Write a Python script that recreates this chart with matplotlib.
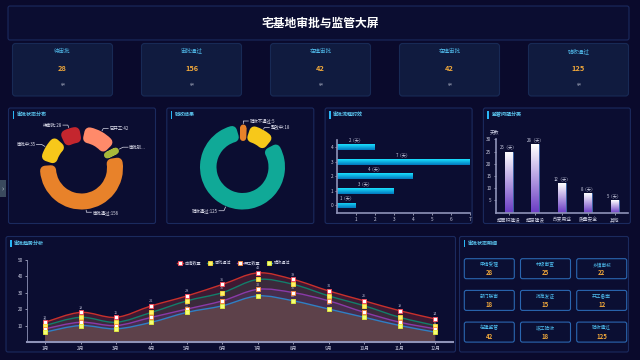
import numpy as np
import matplotlib
matplotlib.use('Agg')
import matplotlib.pyplot as plt
from matplotlib.patches import FancyBboxPatch, Wedge, Rectangle, PathPatch
from matplotlib.path import Path

plt.rcParams['font.family'] = ['Noto Sans CJK SC', 'DejaVu Sans']
plt.rcParams['axes.unicode_minus'] = False

# ---- 数据 ----
kpi_labels = ['待审批', '审批通过', '在建审批', '在建审批', '验收通过']
kpi_values = [28, 156, 42, 42, 125]
kpi_unit = '宗'

status_names = ['已开工', '审批驳回', '审批通过', '审批中', '待审批']
status_values = [42, 10, 156, 35, 28]
status_colors = ['#ff8a6a', '#a8b83a', '#e8822a', '#f7c81a', '#c4262e']
status_text = ['已开工:42', '审批驳...', '审批通过:156', '审批中:35', '待审批:28']

check_names = ['验收不通过', '整改中', '验收通过']
check_values = [5, 18, 125]
check_colors = ['#e8822a', '#f7c81a', '#10a997']

flow_cats = [0, 1, 2, 3, 4]
flow_days = [1, 3, 4, 7, 2]

issue_cats = ['超面积建设', '超层建设', '改变用途', '质量安全', '其他']
issue_days = [25, 28, 12, 8, 5]

months = ['1月', '2月', '3月', '4月', '5月', '6月', '7月', '8月', '9月', '10月', '11月', '12月']
apply_cnt = [12, 18, 15, 22, 28, 35, 42, 38, 31, 25, 19, 14]
approve_cnt = [10, 15, 12, 18, 25, 30, 38, 35, 28, 22, 15, 10]
start_cnt = [8, 12, 10, 15, 20, 25, 32, 30, 25, 18, 12, 8]
accept_cnt = [6, 10, 8, 12, 18, 22, 28, 25, 20, 15, 10, 6]
trend_names = ['申请数量', '审批通过', '开工数量', '验收通过']

detail_labels = ['申请受理', '村级审查', '乡镇审核', '部门联审', '批准发证', '开工备案',
                 '在建监管', '竣工验收', '验收通过']
detail_values = [28, 25, 22, 18, 15, 12, 42, 18, 125]

# ---- 画布 ----
W, H = 640, 360
BG = '#0a0a2c'
PANEL = '#0b0d31'
EDGE = '#1b2a5e'
TITLE_C = '#5cc6f0'
TICK_C = '#c9cbe0'

fig = plt.figure(figsize=(W / 100, H / 100), dpi=100)
fig.patch.set_facecolor(BG)

bg = fig.add_axes([0, 0, 1, 1])
bg.set_xlim(0, W)
bg.set_ylim(H, 0)
bg.axis('off')


def add_ax(x, y, w, h):
    ax = fig.add_axes([x / W, 1 - (y + h) / H, w / W, h / H])
    ax.patch.set_alpha(0)
    return ax


def panel(x, y, w, h, title=None, fc=PANEL, ec=EDGE, r=2):
    bg.add_patch(FancyBboxPatch((x, y), w, h, boxstyle=f'round,pad=0,rounding_size={r}',
                                fc=fc, ec=ec, lw=0.8, zorder=1))
    if title:
        bg.add_patch(Rectangle((x + 4, y + 3), 1.5, 7.5, fc='#29b6f6', ec='none', zorder=2))
        bg.text(x + 8, y + 6.8, title, color=TITLE_C, fontsize=3.6, va='center', ha='left',
                fontweight='bold', zorder=3)


# 标题
panel(8, 6, 621, 34)
bg.text(320, 23, '宅基地审批与监管大屏', color='white', fontsize=8.5, fontweight='bold',
        ha='center', va='center', zorder=3)

# KPI 卡片
for i, (lab, val) in enumerate(zip(kpi_labels, kpi_values)):
    x0 = 12.5 + i * 129
    panel(x0, 43.5, 100, 52.5, fc='#101b3f', ec='#182a55', r=3)
    bg.text(x0 + 50, 51, lab, color='#4fb6e6', fontsize=4, ha='center', va='center', zorder=3)
    bg.text(x0 + 50, 68.5, str(val), color='#f2a93b', fontsize=5.3, fontweight='bold',
            ha='center', va='center', zorder=3)
    bg.text(x0 + 50, 84.5, kpi_unit, color='#8a90a6', fontsize=2.8, ha='center', va='center', zorder=3)

# 中部四个面板
mid_titles = ['审批状态分布', '验收结果', '审批流程时效', '监管问题分类']
for i, t in enumerate(mid_titles):
    panel(8.5 + i * 158.3, 108, 147, 115.5, title=t)

# 底部面板
panel(6, 236.5, 449.5, 115.5, title='审批趋势分析')
panel(459.5, 236.5, 169, 115.5, title='审批状态明细')

# 左侧小标签
bg.add_patch(Rectangle((0, 180), 6, 17, fc='#3a4a5e', ec='none', zorder=2))
bg.text(3, 188.5, '›', color='#c8d0dc', fontsize=5, ha='center', va='center', zorder=3)


# ---- 环形图 ----
def donut(cx, cy, r_out, r_in, values, colors, labels, start, sides, lens):
    R = 70
    ax = add_ax(cx - R, cy - R, 2 * R, 2 * R)
    ax.set_xlim(-R, R)
    ax.set_ylim(-R, R)
    ax.set_aspect('equal')
    ax.axis('off')
    total = float(sum(values))
    a = start
    gap = 3.5
    r_mid = (r_out + r_in) / 2
    for v, c, lab, side, ln in zip(values, colors, labels, sides, lens):
        span = v / total * 360
        a1, a2 = a - span, a
        arc_full = np.radians(span) * r_mid
        drawn = max(arc_full - gap, arc_full * 0.85)
        e = min(5, drawn / 2)
        mid = (a1 + a2) / 2
        half = np.degrees((drawn / 2 - e) / r_mid)
        th1, th2 = mid - max(half, 0.05), mid + max(half, 0.05)
        ax.add_patch(Wedge((0, 0), r_out - e, th1, th2, width=(r_out - r_in) - 2 * e,
                           fc=c, ec=c, lw=2 * e * 0.72, joinstyle='round'))
        m = np.radians(mid)
        p0 = np.array([np.cos(m), np.sin(m)]) * (r_out + 1)
        p1 = np.array([np.cos(m), np.sin(m)]) * (r_out + ln)
        p2 = p1 + np.array([5 * side, 0])
        ax.plot([p0[0], p1[0], p2[0]], [p0[1], p1[1], p2[1]], color='#d8d8e8', lw=0.5,
                clip_on=False)
        ax.text(p2[0] + side * 1.0, p2[1], lab, color='#e0e0ee', fontsize=3.2,
                ha='left' if side > 0 else 'right', va='center')
        a = a1


donut(81.5, 168, 41.5, 25.5, status_values, status_colors, status_text, 89,
      [1, 1, 1, -1, -1], [3.5, 5, 3, 5, 3.5])
donut(242.5, 167, 42.5, 26, check_values, check_colors,
      [f'{n}:{v}' for n, v in zip(check_names, check_values)], 95, [1, 1, -1], [3.5, 2.5, 5])


def style_axis(ax):
    for s in ['top', 'right']:
        ax.spines[s].set_visible(False)
    for s in ['left', 'bottom']:
        ax.spines[s].set_color('#8f93b8')
        ax.spines[s].set_linewidth(1.2)
    ax.tick_params(colors=TICK_C, labelsize=3.4, length=1.5, width=0.5, pad=1.5)


def gradient_fill(ax, bar, c_top, c_bot):
    x0, y0 = bar.get_x(), bar.get_y()
    w, h = bar.get_width(), bar.get_height()
    cmap = matplotlib.colors.LinearSegmentedColormap.from_list('g', [c_bot, c_top])
    grad = np.linspace(0, 1, 64).reshape(-1, 1)
    im = ax.imshow(grad, extent=[x0, x0 + w, y0, y0 + h], origin='lower', aspect='auto',
                   cmap=cmap, zorder=bar.get_zorder() + 0.1)
    im.set_clip_path(bar)


# ---- 横向条形图 ----
ax3 = add_ax(337.3, 140, 132.7, 72.7)
bars = ax3.barh(flow_cats, flow_days, height=0.4, color='#00b4e6', zorder=2)
for b, v in zip(bars, flow_days):
    gradient_fill(ax3, b, '#19e0ff', '#0277bd')
    ax3.text(v / 2, b.get_y() + b.get_height() + 0.12, f'{v}（天）', color=TICK_C,
             fontsize=3.1, ha='center', va='bottom')
ax3.set_xlim(0, 7)
ax3.set_ylim(-0.5, 4.5)
ax3.set_xticks(range(1, 8))
ax3.set_yticks(flow_cats)
style_axis(ax3)

# ---- 竖向条形图 ----
ax4 = add_ax(495.7, 139.3, 132.3, 73.4)
xs = np.arange(len(issue_cats))
bars = ax4.bar(xs, issue_days, width=0.3, color='#8f6ad8', ec='#2e7fb8', lw=0.4, zorder=2)
for b, v in zip(bars, issue_days):
    gradient_fill(ax4, b, '#ffffff', '#6a3cc4')
    ax4.text(b.get_x() + b.get_width() / 2, v + 0.8, f'{v}（天）', color=TICK_C,
             fontsize=3.1, ha='center', va='bottom')
ax4.set_xlim(-0.5, 4.5)
ax4.set_ylim(0, 30)
ax4.set_yticks(range(5, 31, 5))
ax4.set_xticks(xs)
ax4.set_xticklabels(issue_cats)
style_axis(ax4)
ax4.text(-0.55, 32, '天数', color=TICK_C, fontsize=3.4, ha='center', va='bottom')


# ---- 趋势折线图 ----
def smooth_path(x, y, close=False):
    pts = np.column_stack([x, y]).astype(float)
    n = len(pts)
    verts = [pts[0]]
    codes = [Path.MOVETO]
    for i in range(n - 1):
        p0 = pts[i - 1] if i > 0 else pts[i]
        p1, p2 = pts[i], pts[i + 1]
        p3 = pts[i + 2] if i + 2 < n else pts[i + 1]
        verts += [p1 + (p2 - p0) / 6, p2 - (p3 - p1) / 6, p2]
        codes += [Path.CURVE4] * 3
    if close:
        verts += [[x[-1], 0], [x[0], 0], [x[0], 0]]
        codes += [Path.LINETO, Path.LINETO, Path.CLOSEPOLY]
    return Path(verts, codes)


ax5 = add_ax(27.3, 259.7, 425.7, 82.3)
xm = np.arange(len(months))
series = [apply_cnt, approve_cnt, start_cnt, accept_cnt]
line_c = ['#c8302c', '#127e6a', '#8a3aa8', '#2f7fc4']
fill_c = ['#b0343a', '#2a7a62', '#7a3e9a', '#7a5a48']
fill_a = [0.32, 0.18, 0.2, 0.45]
mfc = ['white', '#fff36a', 'white', '#f4ff7a']
mec = ['#ff4a5a', '#ffe03a', '#ff8a3a', '#e8f23a']
for ys, fc, fa in zip(series, fill_c, fill_a):
    ax5.add_patch(PathPatch(smooth_path(xm, ys, close=True), fc=fc, ec='none', alpha=fa, zorder=1))
for ys, lc in zip(series, line_c):
    ax5.add_patch(PathPatch(smooth_path(xm, ys), fc='none', ec=lc, lw=1.0, zorder=2))
for k, ys in enumerate(series):
    ax5.plot(xm, ys, ls='none', marker='s', ms=2.6, mfc=mfc[k], mec=mec[k], mew=0.6, zorder=4)
    for xi, yi in zip(xm, ys):
        ax5.text(xi, yi + 1.6, str(yi), color='#a8aac4', fontsize=2.8, ha='center', va='bottom',
                 zorder=3)
ax5.set_xlim(-0.5, 11.5)
ax5.set_ylim(0, 50)
ax5.set_xticks(xm)
ax5.set_xticklabels(months)
ax5.set_yticks(range(10, 51, 10))
style_axis(ax5)
ax5.spines['left'].set_linewidth(0.6)
ax5.spines['bottom'].set_linewidth(1.5)
handles = []
for k in range(4):
    h, = ax5.plot([], [], color=line_c[k], lw=1.0, marker='s', ms=2.6, mfc=mfc[k], mec=mec[k],
                  mew=0.6)
    handles.append(h)
ax5.legend(handles, trend_names, loc='upper center', bbox_to_anchor=(0.485, 1.03), ncol=4,
           frameon=False, fontsize=3.0, handlelength=1.4, columnspacing=1.4,
           handletextpad=0.4, labelcolor='#d0d2e4')

# ---- 状态明细 ----
for i, (lab, val) in enumerate(zip(detail_labels, detail_values)):
    r, c = divmod(i, 3)
    x0 = 464.3 + c * 56.2
    y0 = 258.7 + r * 31.7
    bg.add_patch(FancyBboxPatch((x0, y0), 50, 20, boxstyle='round,pad=0,rounding_size=2',
                                fc='#0b0f33', ec='#2a66b0', lw=0.8, zorder=2))
    bg.text(x0 + 25, y0 + 5.8, lab, color='#4fc0f2', fontsize=3.4, ha='center', va='center',
            zorder=3)
    bg.text(x0 + 25, y0 + 14, str(val), color='#f2a93b', fontsize=4.3, fontweight='bold',
            ha='center', va='center', zorder=3)

fig.savefig('out.png', dpi=100, facecolor=BG)
